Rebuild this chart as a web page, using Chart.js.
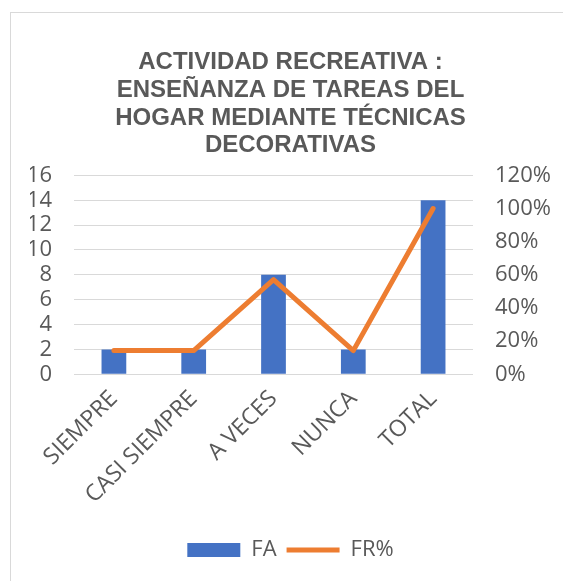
<!DOCTYPE html>
<html lang="es">
  <head>
    <meta charset="UTF-8" />
    <script src="https://cdn.jsdelivr.net/npm/chart.js@4.4.1/dist/chart.umd.min.js"></script>
    <title>Actividad recreativa</title>
    <style>
      body { margin: 0; background: #fff; }
      #frame {
        position: absolute; left: 10px; top: 12px; width: 600px; height: 600px;
        border-left: 1px solid #d9d9d9; border-top: 1px solid #d9d9d9;
      }
      #wrap { position: absolute; left: 0; top: 0; width: 563px; height: 581px; }
    </style>
  </head>
  <body>
    <div id="frame"></div>
    <div id="wrap"><canvas id="myChart"></canvas></div>

    <script>
      // data
      var categories = ['SIEMPRE', 'CASI SIEMPRE', 'A VECES', 'NUNCA', 'TOTAL'];
      var fa = [2, 2, 8, 2, 14];
      var frPercent = [0.1429, 0.1429, 0.5714, 0.1429, 1.0];
      var faTicks = { min: 0, max: 16, step: 2 };
      var frTicks = { min: 0, max: 1.2, step: 0.2 };

      var grey = '#595959';
      var tickFont = { family: 'Open Sans', size: 22 };

      var ctx = document.getElementById('myChart').getContext('2d');
      var myChart = new Chart(ctx, {
        type: 'bar',
        data: {
          labels: categories,
          datasets: [
            {
              label: 'FA',
              data: fa,
              backgroundColor: '#4472C4',
              borderWidth: 0,
              barPercentage: 0.31,
              categoryPercentage: 1,
              pointStyle: 'rect',
              yAxisID: 'y',
              order: 1
            },
            {
              type: 'line',
              label: 'FR%',
              data: frPercent,
              borderColor: '#ED7D31',
              backgroundColor: '#ED7D31',
              borderWidth: 5,
              borderCapStyle: 'round',
              borderJoinStyle: 'round',
              pointRadius: 0,
              pointStyle: 'line',
              tension: 0,
              yAxisID: 'y1',
              order: 0
            }
          ]
        },
        options: {
          responsive: true,
          maintainAspectRatio: false,
          animation: false,
          layout: { padding: { top: 32, left: 30, right: 12, bottom: 10 } },
          plugins: {
            title: {
              display: true,
              text: ['ACTIVIDAD RECREATIVA :', 'ENSEÑANZA DE TAREAS DEL', 'HOGAR MEDIANTE TÉCNICAS', 'DECORATIVAS'],
              color: grey,
              font: { family: 'Liberation Sans', size: 24, weight: 'bold', lineHeight: 1.15 },
              padding: { top: 17, bottom: 16 }
            },
            legend: {
              position: 'bottom',
              labels: {
                usePointStyle: true,
                pointStyleWidth: 53,
                boxHeight: 14,
                color: grey,
                font: { family: 'Open Sans', size: 22 },
                padding: 10,
                sort: function (a, b) { return a.datasetIndex - b.datasetIndex; }
              }
            },
            tooltip: { enabled: false }
          },
          scales: {
            x: {
              grid: { display: false },
              border: { display: false },
              ticks: {
                color: grey,
                font: { family: 'Open Sans', size: 23 },
                minRotation: 45,
                maxRotation: 45,
                padding: 3
              },
              afterFit: function (s) {
                s.height += 17;
                s.paddingLeft = 0;
                s.paddingRight = 0;
              }
            },
            y: {
              position: 'left',
              min: faTicks.min,
              max: faTicks.max,
              grid: { color: '#d9d9d9', drawTicks: false },
              border: { display: false },
              ticks: { stepSize: faTicks.step, autoSkip: false, color: grey, font: tickFont, padding: 22 },
              afterFit: function (s) { s.width = 44; }
            },
            y1: {
              position: 'right',
              min: frTicks.min,
              max: frTicks.max,
              grid: { display: false, drawTicks: false },
              border: { display: false },
              ticks: {
                stepSize: frTicks.step,
                autoSkip: false,
                color: grey,
                font: tickFont,
                padding: 22,
                callback: function (v) { return Math.round(v * 100) + '%'; }
              },
              afterFit: function (s) { s.width = 78; }
            }
          }
        }
      });
    </script>
  </body>
</html>
